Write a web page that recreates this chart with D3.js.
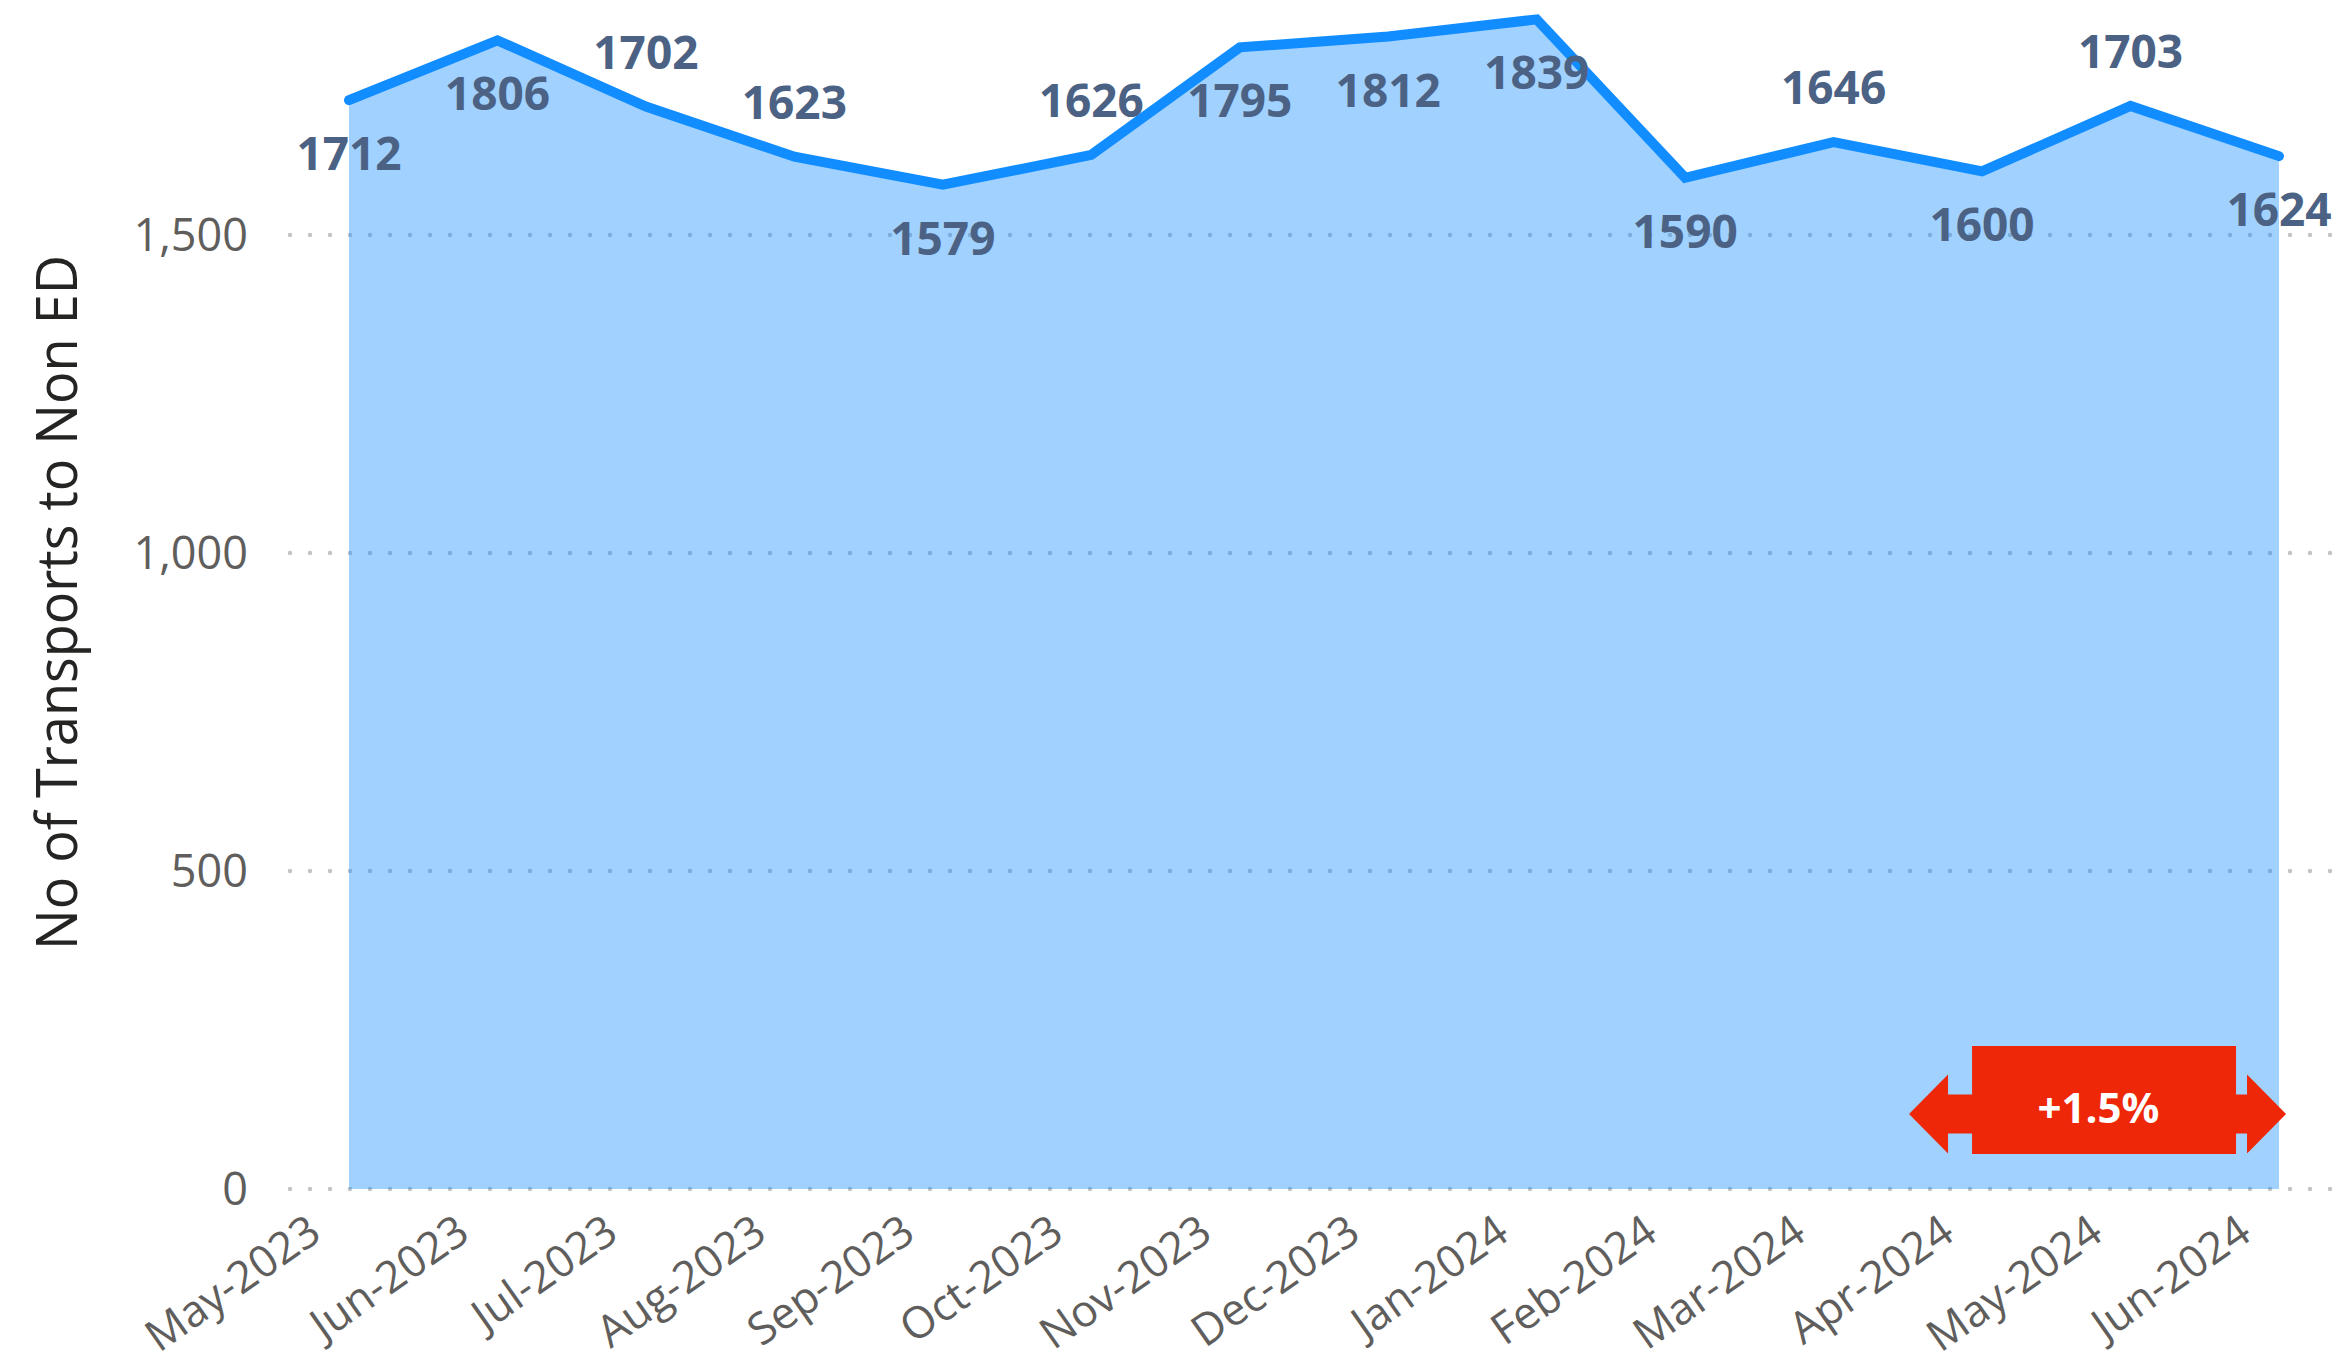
<!DOCTYPE html>
<html>
<head>
<meta charset="utf-8">
<title>No of Transports to Non ED</title>
<script src="https://cdn.jsdelivr.net/npm/d3@7"></script>
<style>
  html, body { margin: 0; padding: 0; background: #ffffff; }
  svg { display: block; }
</style>
</head>
<body>
<div id="chart"></div>
<script>
// Monthly transports to non-ED destinations
const months = ["May-2023", "Jun-2023", "Jul-2023", "Aug-2023", "Sep-2023", "Oct-2023", "Nov-2023",
                "Dec-2023", "Jan-2024", "Feb-2024", "Mar-2024", "Apr-2024", "May-2024", "Jun-2024"];
const transports = [1712, 1806, 1702, 1623, 1579, 1626, 1795, 1812, 1839, 1590, 1646, 1600, 1703, 1624];
const yTicks = [0, 500, 1000, 1500];
const yTitle = "No of Transports to Non ED";
// comparison shown in the badge: Apr-2024 vs Jun-2024
const compareFrom = "Apr-2024";
const compareTo = "Jun-2024";

// label placement relative to the line (avoids overlaps with the stroke)
const labelSide = ["below", "below", "above", "above", "below", "above", "below",
                   "below", "below", "below", "above", "below", "above", "below"];

const W = 2341, H = 1353;
const FONT = "'Segoe UI', 'Open Sans', 'Noto Sans', sans-serif";

const svg = d3.select("#chart").append("svg")
  .attr("width", W).attr("height", H)
  .attr("viewBox", `0 0 ${W} ${H}`);

const x = d3.scalePoint().domain(months).range([349, 2279]);
const y = d3.scaleLinear().domain([0, 1500]).range([1189, 235]);

const data = months.map((m, i) => ({ month: m, value: transports[i], side: labelSide[i] }));

// dotted horizontal gridlines
svg.append("g").selectAll("line").data(yTicks).join("line")
  .attr("x1", 290).attr("x2", 2336)
  .attr("y1", d => y(d)).attr("y2", d => y(d))
  .attr("stroke", "#c4c4c4")
  .attr("stroke-width", 4.5)
  .attr("stroke-linecap", "round")
  .attr("stroke-dasharray", "0,20");

// y axis tick labels
const yAxis = d3.axisLeft(y).tickValues(yTicks).tickFormat(d3.format(",")).tickSize(0).tickPadding(0);
const gy = svg.append("g").attr("transform", "translate(248,0)").call(yAxis);
gy.select(".domain").remove();
gy.selectAll("text")
  .attr("x", 0)
  .attr("dy", "0.34em")
  .style("font-family", FONT)
  .style("font-size", "45px")
  .style("font-weight", 400)
  .style("fill", "#605E5C")
  .attr("text-anchor", "end");

// area under the line
const area = d3.area()
  .x(d => x(d.month))
  .y0(y(0))
  .y1(d => y(d.value));
svg.append("path").datum(data)
  .attr("d", area)
  .attr("fill", "#118DFF")
  .attr("fill-opacity", 0.4);

// line
const line = d3.line().x(d => x(d.month)).y(d => y(d.value));
svg.append("path").datum(data)
  .attr("d", line)
  .attr("fill", "none")
  .attr("stroke", "#118DFF")
  .attr("stroke-width", 10)
  .attr("stroke-linejoin", "miter")
  .attr("stroke-linecap", "round");

// data labels
svg.append("g").selectAll("text").data(data).join("text")
  .attr("x", d => x(d.month))
  .attr("y", d => y(d.value) + (d.side === "above" ? -38 : 70))
  .attr("text-anchor", "middle")
  .style("font-family", FONT)
  .style("font-size", "46px")
  .style("font-weight", 700)
  .style("fill", "#4B6284")
  .text(d => d.value);

// x axis category labels, rotated
const xAxis = d3.axisBottom(x).tickSize(0).tickPadding(0);
const gx = svg.append("g").attr("transform", `translate(0,${y(0)})`).call(xAxis);
gx.select(".domain").remove();
gx.selectAll("text")
  .attr("y", 0).attr("dy", 0)
  .attr("transform", "translate(-26,49) rotate(-35)")
  .attr("text-anchor", "end")
  .style("font-family", FONT)
  .style("font-size", "44px")
  .style("font-weight", 400)
  .style("fill", "#605E5C");

// y axis title
svg.append("text")
  .attr("transform", `translate(77,${(y(0) + 16) / 2}) rotate(-90)`)
  .attr("text-anchor", "middle")
  .attr("textLength", 695)
  .attr("lengthAdjust", "spacingAndGlyphs")
  .style("font-family", FONT)
  .style("font-size", "57px")
  .style("font-weight", 400)
  .style("fill", "#252423")
  .text(yTitle);

// change badge: double arrow with percentage
const vFrom = transports[months.indexOf(compareFrom)];
const vTo = transports[months.indexOf(compareTo)];
const pct = (vTo - vFrom) / vFrom * 100;
const pctText = (pct >= 0 ? "+" : "") + pct.toFixed(1) + "%";

const bx = (x(compareFrom) + x(compareTo)) / 2 - 33; // badge centre x
const by = y(0) - 75;                                // arrow axis y
const rectL = bx - 125.5, rectR = bx + 138.5;
const rectT = by - 68, rectB = by + 40;
const headHalf = 39.5, shaftHalf = 19.5, headLen = 39;
const leftBase = rectL - 24, rightBase = rectR + 11;

const badge = svg.append("g");
const arrowPts = [
  [leftBase - headLen, by],
  [leftBase, by - headHalf],
  [leftBase, by - shaftHalf],
  [rightBase, by - shaftHalf],
  [rightBase, by - headHalf],
  [rightBase + headLen, by],
  [rightBase, by + headHalf],
  [rightBase, by + shaftHalf],
  [leftBase, by + shaftHalf],
  [leftBase, by + headHalf]
];
badge.append("polygon")
  .attr("points", arrowPts.map(p => p.join(",")).join(" "))
  .attr("fill", "#EE2709");
badge.append("rect")
  .attr("x", rectL).attr("y", rectT)
  .attr("width", rectR - rectL).attr("height", rectB - rectT)
  .attr("fill", "#EE2709");
badge.append("text")
  .attr("x", bx + 1).attr("y", by + 9)
  .attr("text-anchor", "middle")
  .style("font-family", FONT)
  .style("font-size", "42px")
  .style("font-weight", 700)
  .style("fill", "#ffffff")
  .text(pctText);
</script>
</body>
</html>
